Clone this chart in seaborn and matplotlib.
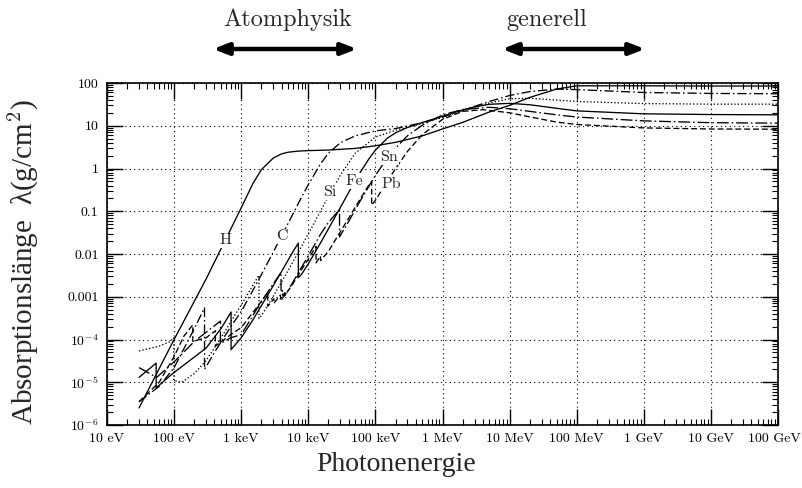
import numpy as np
import pandas as pd
import matplotlib
matplotlib.use("Agg")
import matplotlib.pyplot as plt
import seaborn as sns
from matplotlib.ticker import FixedLocator, LogLocator, NullFormatter, FixedFormatter
from matplotlib.transforms import ScaledTranslation

# Photon mass attenuation length lambda (g/cm^2) versus photon energy (eV).
# Repeated energies mark absorption edges (value below edge, then above edge).
h_energy = [30, 100, 300, 1e3, 1.5e3, 2e3, 3e3, 4e3, 5e3, 7e3, 1e4, 2e4, 5e4, 1e5,
            2e5, 5e5, 1e6, 2e6, 5e6, 1e7, 2e7, 5e7, 1e8, 1e9, 1e10, 1e11]
h_lambda = [2.5e-6, 1.0e-4, 2.6e-3, 0.12, 0.45, 0.94, 1.75, 2.2, 2.4, 2.55, 2.62, 2.7, 2.95, 3.4,
            4.1, 5.8, 8.4, 12.0, 21.0, 30.0, 46.0, 72.0, 86.0, 86.0, 85.0, 85.0]

c_energy = [30, 60, 100, 200, 284, 284, 400, 700, 1e3, 1.5e3, 2e3, 3e3, 4e3, 5e3, 6e3, 8e3,
            1e4, 1.5e4, 2e4, 3e4, 5e4, 1e5, 2e5, 5e5, 1e6, 2e6, 5e6, 1e7, 2e7, 5e7, 1e8,
            1e9, 1e10, 1e11]
c_lambda = [3.5e-6, 8e-6, 2.2e-5, 1.8e-4, 5.5e-4, 2.0e-5, 5e-5, 2e-4, 4.5e-4, 1.43e-3, 3.3e-3,
            0.011, 0.0265, 0.052, 0.091, 0.219, 0.42, 1.24, 2.3, 4.0, 5.8, 7.6, 8.6, 11.8, 16.0,
            23.0, 37.0, 51.0, 63.0, 72.0, 70.0, 60.0, 57.0, 56.0]

si_energy = [30, 60, 88, 99, 99, 130, 200, 300, 500, 700, 1e3, 1.5e3, 1839, 1839, 2e3, 3e3,
             5e3, 8e3, 1e4, 1.5e4, 2e4, 3e4, 5e4, 1e5, 2e5, 5e5, 1e6, 2e6, 5e6, 1e7, 2e7,
             1e8, 1e9, 1e10, 1e11]
si_lambda = [5.4e-5, 7e-5, 9e-5, 1.1e-4, 1.1e-5, 1.0e-5, 1.6e-5, 3.2e-5, 1.1e-4, 2.6e-4, 6.4e-4,
             1.87e-3, 3.2e-3, 3.1e-4, 3.6e-4, 1.02e-3, 4.1e-3, 0.0155, 0.0295, 0.097, 0.224,
             0.696, 2.28, 5.45, 7.84, 11.4, 15.7, 22.4, 34.3, 42.8, 44.0, 37.0, 33.0, 32.0, 32.0]

fe_energy = [30, 54, 54, 100, 300, 500, 707, 707, 1e3, 1.5e3, 2e3, 3e3, 4e3, 5e3, 6e3, 7112,
             7112, 8e3, 1e4, 1.5e4, 2e4, 3e4, 4e4, 5e4, 6e4, 8e4, 1e5, 1.5e5, 2e5, 3e5, 5e5,
             1e6, 2e6, 3e6, 5e6, 1e7, 2e7, 5e7, 1e8, 1e9, 1e10, 1e11]
fe_lambda = [1.3e-5, 2.8e-5, 7.4e-6, 1.7e-5, 6.3e-5, 1.8e-4, 4.4e-4, 5.8e-5, 1.1e-4, 2.9e-4,
             6.2e-4, 1.8e-3, 3.9e-3, 7.2e-3, 0.0118, 0.018, 0.0028, 3.4e-3, 5.9e-3, 0.0175,
             0.039, 0.122, 0.276, 0.51, 0.83, 1.68, 2.69, 5.1, 6.85, 9.1, 11.9, 16.7, 23.4,
             27.6, 31.8, 33.4, 31.0, 25.6, 22.3, 19.0, 18.3, 18.0]

sn_energy = [30, 55, 100, 200, 490, 490, 700, 1e3, 2e3, 3e3, 3929, 3929, 4156, 4156, 4465,
             4465, 5e3, 6e3, 8e3, 1e4, 1.5e4, 2e4, 29200, 29200, 4e4, 6e4, 1e5, 1.5e5, 2e5,
             3e5, 5e5, 1e6, 2e6, 5e6, 1e7, 2e7, 5e7, 1e8, 1e9, 1e10, 1e11]
sn_lambda = [2.2e-5, 1.3e-5, 3e-5, 9e-5, 2.7e-4, 8e-5, 1.1e-4, 1.3e-4, 7.7e-4, 2.0e-3, 3.7e-3,
             1.25e-3, 1.4e-3, 1.05e-3, 1.25e-3, 1.07e-3, 1.4e-3, 2.3e-3, 5e-3, 9e-3, 0.028,
             0.055, 0.11, 0.025, 0.058, 0.18, 0.69, 1.75, 3.0, 5.8, 10.3, 18.0, 24.0, 27.0,
             25.0, 21.7, 18.0, 16.0, 13.0, 11.8, 11.5]

pb_energy = [30, 60, 100, 140, 190, 190, 300, 413, 413, 700, 1e3, 2e3, 2484, 2484, 3066,
             3066, 3851, 3851, 5e3, 6e3, 8e3, 1e4, 13035, 13035, 15200, 15200, 2e4, 3e4,
             4e4, 5e4, 6e4, 8e4, 88000, 88000, 1e5, 1.5e5, 2e5, 3e5, 5e5, 1e6, 2e6, 4e6,
             1e7, 2e7, 5e7, 1e8, 1e9, 1e10, 1e11]
pb_lambda = [3.5e-6, 1e-5, 4e-5, 1.2e-4, 2.2e-4, 9e-5, 1.1e-4, 1.6e-4, 7e-5, 1.3e-4, 1.9e-4,
             7.8e-4, 1.25e-3, 6e-4, 9e-4, 7e-4, 1.1e-3, 8e-4, 1.37e-3, 2.1e-3, 4.4e-3, 7.6e-3,
             0.015, 6.2e-3, 9e-3, 7e-3, 0.0116, 0.033, 0.069, 0.124, 0.2, 0.41, 0.5, 0.14,
             0.18, 0.5, 1.0, 2.5, 6.2, 14.1, 21.7, 23.8, 20.1, 16.1, 12.2, 10.7, 8.9, 8.4, 8.3]

elements = ["H", "C", "Si", "Fe", "Sn", "Pb"]
energies = [h_energy, c_energy, si_energy, fe_energy, sn_energy, pb_energy]
lambdas = [h_lambda, c_lambda, si_lambda, fe_lambda, sn_lambda, pb_lambda]
line_styles = {
    "H": "-",
    "C": (0, (7, 2.2, 1.2, 2.2)),
    "Si": (0, (1, 1.6)),
    "Fe": "-",
    "Sn": (0, (9, 2.2, 1.2, 2.2)),
    "Pb": (0, (4.5, 2.2)),
}

# curve label positions (energy in eV, lambda in g/cm^2)
label_pos = {
    "H": (580, 0.021),
    "C": (4.1e3, 0.026),
    "Si": (2.1e4, 0.28),
    "Fe": (4.9e4, 0.51),
    "Sn": (1.6e5, 1.86),
    "Pb": (1.7e5, 0.44),
}

x_ticks = [1e1, 1e2, 1e3, 1e4, 1e5, 1e6, 1e7, 1e8, 1e9, 1e10, 1e11]
x_tick_labels = ["10 eV", "100 eV", "1 keV", "10 keV", "100 keV", "1 MeV", "10 MeV",
                 "100 MeV", "1 GeV", "10 GeV", "100 GeV"]
y_ticks = [1e-6, 1e-5, 1e-4, 1e-3, 1e-2, 1e-1, 1, 10, 100]
y_tick_labels = [r"$10^{-6}$", r"$10^{-5}$", r"$10^{-4}$", "0.001", "0.01", "0.1", "1", "10", "100"]

frames = []
for name, e, l in zip(elements, energies, lambdas):
    frames.append(pd.DataFrame({"element": name, "energy": e, "lam": l}))
df = pd.concat(frames, ignore_index=True)

sns.set_style("ticks")
plt.rcParams["font.family"] = ["cmr10", "DejaVu Serif"]
plt.rcParams["mathtext.fontset"] = "cm"
plt.rcParams["axes.formatter.use_mathtext"] = True

fig = plt.figure(figsize=(8.02, 4.88), dpi=100)
ax = fig.add_axes([107 / 802, 1 - 425 / 488, 671 / 802, 342 / 488])
ax.set_xscale("log")
ax.set_yscale("log")

for name in elements:
    sub = df[df["element"] == name]
    sns.lineplot(data=sub, x="energy", y="lam", ax=ax, color="black", lw=0.95,
                 estimator=None, sort=False, linestyle=line_styles[name], legend=False)

for name, (ex, ly) in label_pos.items():
    ax.text(ex, ly, name, ha="center", va="center", fontsize=11.5, family="cmr10",
            bbox=dict(facecolor="white", edgecolor="none", pad=0.6), zorder=5)

ax.set_xlim(1e1, 1e11)
ax.set_ylim(1e-6, 100)

ax.xaxis.set_major_locator(FixedLocator(x_ticks))
ax.xaxis.set_major_formatter(FixedFormatter(x_tick_labels))
ax.xaxis.set_minor_locator(LogLocator(base=10, subs=np.arange(2, 10), numticks=50))
ax.xaxis.set_minor_formatter(NullFormatter())
ax.yaxis.set_major_locator(FixedLocator(y_ticks))
ax.yaxis.set_major_formatter(FixedFormatter(y_tick_labels))
ax.yaxis.set_minor_locator(LogLocator(base=10, subs=np.arange(2, 10), numticks=50))
ax.yaxis.set_minor_formatter(NullFormatter())

ax.tick_params(which="both", direction="in", top=True, right=True, colors="black")
ax.tick_params(which="major", length=11.5, width=1.0, labelsize=10, pad=6)
ax.tick_params(which="minor", length=4, width=0.8)
for sp in ax.spines.values():
    sp.set_linewidth(1.2)
    sp.set_color("black")

# keep the rightmost energy label inside the figure
last_tick = ax.xaxis.get_major_ticks()[-1]
last_tick.label1.set_transform(last_tick.label1.get_transform()
                               + ScaledTranslation(-4 / 100, 0, fig.dpi_scale_trans))

ax.grid(True, which="major", color="black", linestyle=(0, (1, 3)), linewidth=0.8)

ax.set_xlabel("Photonenergie", fontsize=20, family="Liberation Serif")
ax.xaxis.set_label_coords(0.4307, -0.08)
ax.set_ylabel("Absorptionslänge  λ(g/cm$^2$)", fontsize=21, family="Liberation Serif")
ax.yaxis.set_label_coords(-0.10, 0.477)

# regions of physics above the plot
fig.text(288 / 802, 1 - 20 / 488, "Atomphysik", ha="center", va="center",
         fontsize=17.5, family="cmr10")
fig.text(547 / 802, 1 - 20 / 488, "generell", ha="center", va="center",
         fontsize=17.5, family="cmr10")
arrow_kw = dict(arrowstyle="<|-|>,head_length=0.9,head_width=0.35", lw=3.2,
                color="black", shrinkA=0, shrinkB=0)
ax.annotate("", xy=(357 / 802, 1 - 49 / 488), xytext=(213 / 802, 1 - 49 / 488),
            xycoords="figure fraction", textcoords="figure fraction", arrowprops=arrow_kw)
ax.annotate("", xy=(645 / 802, 1 - 49 / 488), xytext=(502 / 802, 1 - 49 / 488),
            xycoords="figure fraction", textcoords="figure fraction", arrowprops=arrow_kw)

fig.savefig("out.png", dpi=100)
